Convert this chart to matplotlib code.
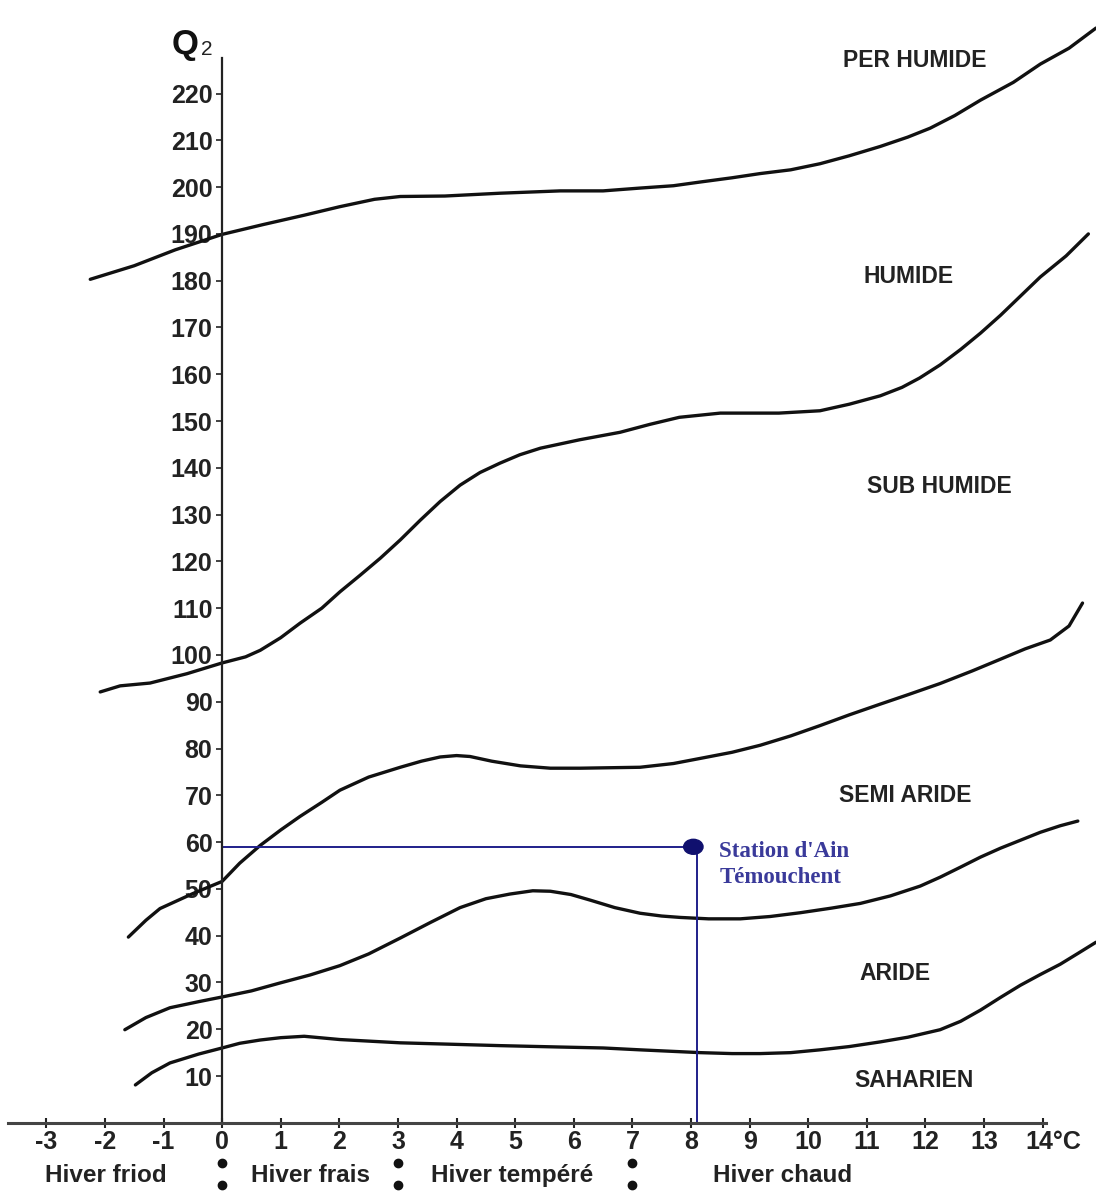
import matplotlib
matplotlib.use("Agg")
import matplotlib.pyplot as plt
import matplotlib.transforms as mtransforms
from matplotlib.patches import Ellipse

plt.rcParams["font.family"] = ["Liberation Sans", "DejaVu Sans"]

# limit curves of the Emberger climagram
per_humide_x = [-2.25, -1.5, -0.8, 0.0, 0.7, 1.4, 2.0, 2.6, 3.04, 3.8, 4.74, 5.77, 6.5, 7.13, 7.7, 8.16, 8.7, 9.18, 9.7, 10.2, 10.7, 11.23, 11.7, 12.08, 12.5, 12.94, 13.5, 13.96, 14.45, 14.91]
per_humide_y = [180.3, 183.2, 186.6, 189.9, 192.0, 194.0, 195.8, 197.4, 198.0, 198.1, 198.7, 199.2, 199.2, 199.8, 200.3, 201.1, 202.0, 202.9, 203.7, 205.0, 206.7, 208.7, 210.7, 212.6, 215.3, 218.6, 222.4, 226.3, 229.7, 234.0]

humide_x = [-2.08, -1.74, -1.23, -0.6, 0.0, 0.4, 0.65, 1.0, 1.33, 1.7, 2.01, 2.35, 2.7, 3.04, 3.38, 3.72, 4.06, 4.4, 4.74, 5.08, 5.43, 6.1, 6.79, 7.3, 7.8, 8.5, 9.0, 9.5, 10.2, 10.7, 11.23, 11.6, 11.9, 12.25, 12.6, 12.94, 13.28, 13.62, 13.96, 14.4, 14.78]
humide_y = [92.1, 93.4, 94.0, 96.0, 98.3, 99.6, 101.0, 103.7, 106.8, 110.0, 113.5, 117.0, 120.7, 124.6, 128.8, 132.8, 136.3, 139.0, 141.0, 142.8, 144.2, 146.0, 147.6, 149.3, 150.8, 151.7, 151.7, 151.7, 152.2, 153.6, 155.4, 157.2, 159.2, 162.0, 165.3, 168.8, 172.6, 176.7, 180.8, 185.3, 190.0]

semi_aride_x = [-1.6, -1.3, -1.06, -0.5, 0.0, 0.3, 0.65, 1.0, 1.33, 1.7, 2.01, 2.5, 3.04, 3.4, 3.72, 4.0, 4.23, 4.6, 5.09, 5.6, 6.11, 7.13, 7.7, 8.16, 8.7, 9.18, 9.7, 10.2, 10.7, 11.23, 11.7, 12.25, 12.8, 13.28, 13.7, 14.13, 14.45, 14.68]
semi_aride_y = [39.7, 43.3, 45.8, 49.0, 51.6, 55.5, 59.3, 62.6, 65.5, 68.5, 71.1, 73.9, 76.0, 77.3, 78.2, 78.5, 78.3, 77.3, 76.3, 75.8, 75.8, 76.0, 76.8, 77.9, 79.2, 80.7, 82.7, 84.9, 87.2, 89.5, 91.5, 93.9, 96.6, 99.1, 101.3, 103.2, 106.2, 111.1]

aride_x = [-1.66, -1.3, -0.89, -0.4, 0.0, 0.5, 0.99, 1.5, 2.01, 2.5, 3.04, 3.55, 4.06, 4.5, 4.91, 5.3, 5.6, 5.95, 6.28, 6.7, 7.13, 7.5, 7.82, 8.3, 8.84, 9.35, 9.86, 10.4, 10.89, 11.4, 11.91, 12.25, 12.59, 12.94, 13.28, 13.62, 13.96, 14.3, 14.6]
aride_y = [19.9, 22.5, 24.6, 25.9, 26.9, 28.2, 29.9, 31.6, 33.6, 36.1, 39.5, 42.8, 46.0, 47.9, 48.9, 49.6, 49.5, 48.8, 47.6, 46.0, 44.8, 44.2, 43.9, 43.6, 43.6, 44.1, 44.9, 45.9, 46.9, 48.5, 50.6, 52.5, 54.6, 56.8, 58.7, 60.4, 62.1, 63.5, 64.5]

saharien_x = [-1.48, -1.2, -0.89, -0.4, 0.0, 0.3, 0.65, 1.0, 1.4, 2.01, 3.04, 3.9, 4.74, 5.77, 6.5, 7.13, 8.16, 8.7, 9.18, 9.7, 10.2, 10.7, 11.23, 11.7, 12.25, 12.6, 12.94, 13.28, 13.62, 13.96, 14.3, 14.6, 14.91]
saharien_y = [8.1, 10.7, 12.8, 14.7, 16.0, 17.0, 17.7, 18.2, 18.5, 17.8, 17.1, 16.8, 16.5, 16.2, 16.0, 15.6, 15.0, 14.8, 14.8, 15.0, 15.6, 16.3, 17.3, 18.3, 19.9, 21.7, 24.1, 26.8, 29.4, 31.7, 33.9, 36.2, 38.6]

curves = [
    (per_humide_x, per_humide_y),
    (humide_x, humide_y),
    (semi_aride_x, semi_aride_y),
    (aride_x, aride_y),
    (saharien_x, saharien_y),
]

zone_names = ["PER HUMIDE", "HUMIDE", "SUB HUMIDE", "SEMI ARIDE", "ARIDE", "SAHARIEN"]
zone_x = [11.81, 11.72, 12.24, 11.66, 11.48, 11.8]
zone_y = [227, 181, 136, 70, 32, 9]

x_ticks = list(range(-3, 15))
x_tick_labels = [str(v) for v in range(-3, 14)] + ["14°C"]
y_ticks = list(range(10, 230, 10))

winter_names = ["Hiver friod", "Hiver frais", "Hiver tempéré", "Hiver chaud"]
winter_x = [-1.99, 1.5, 4.95, 9.57]
winter_sep = [0, 3, 7]

station_x = 8.1
station_y = 59
station_name = "Station d'Ain\nTémouchent"

fig = plt.figure(figsize=(10.96, 11.93), dpi=100)
ax = fig.add_axes([0, 0, 1, 1])
ax.set_xlim(-3.79, 14.91)
ax.set_ylim(-15.0, 240)

for cx, cy in curves:
    ax.plot(cx, cy, color="#111111", lw=2.4, solid_capstyle="round")

# station marker and reading lines
blue = "#1f1f8a"
ax.plot([0, station_x], [station_y, station_y], color=blue, lw=1.4)
ax.plot([station_x, station_x], [0, station_y], color=blue, lw=1.4)
ax.add_patch(Ellipse((station_x - 0.06, station_y), 0.33, 3.2, color="#10106e", zorder=5))
ax.text(station_x + 0.38, station_y + 1.3, station_name, color="#3a3a9a",
        family=["Liberation Serif", "DejaVu Serif"], fontweight="bold", fontsize=16.5,
        va="top", ha="left", linespacing=1.3)

for name, zx, zy in zip(zone_names, zone_x, zone_y):
    ax.text(zx, zy, name, fontsize=16.5, fontweight="bold", ha="center", va="center",
            family=["Liberation Sans", "DejaVu Sans"], color="#222222")

# axes through the origin
for s in ["top", "right"]:
    ax.spines[s].set_visible(False)
ax.spines["left"].set_position(("data", 0))
ax.spines["bottom"].set_position(("data", 0))
ax.spines["left"].set_bounds(0, 227.5)
ax.spines["bottom"].set_bounds(-3.65, 14.05)
ax.spines["left"].set_linewidth(1.6)
ax.spines["bottom"].set_linewidth(2.2)
ax.spines["left"].set_color("#222222")
ax.spines["bottom"].set_color("#444444")

ax.set_yticks(y_ticks)
ax.set_yticklabels([str(v) for v in y_ticks])
ax.set_xticks(x_ticks)
ax.set_xticklabels(x_tick_labels)
ax.tick_params(axis="y", direction="out", length=4, width=1.2, pad=3, labelsize=18, colors="#222222")
ax.tick_params(axis="x", direction="inout", length=7, width=1.5, pad=2, labelsize=18, colors="#222222")
for lab in ax.get_xticklabels() + ax.get_yticklabels():
    lab.set_fontweight("bold")
last = ax.get_xticklabels()[-1]
last.set_horizontalalignment("left")
last.set_transform(last.get_transform() + mtransforms.ScaledTranslation(-0.17, 0, fig.dpi_scale_trans))

# Q2 label
ax.text(-0.63, 227, "Q", fontsize=25, fontweight="bold", ha="center", va="bottom", color="#111111")
ax.text(-0.27, 227.4, "2", fontsize=15, ha="center", va="bottom", color="#222222")

# winter type labels under the temperature axis
for name, wx in zip(winter_names, winter_x):
    ax.text(wx, -11.2, name, fontsize=17.5, fontweight="bold", ha="center", va="center", color="#222222")
for sx in winter_sep:
    ax.plot([sx, sx], [-8.6, -13.3], ls="none", marker="o", ms=6, color="#111111")

fig.savefig("out.png", dpi=100)
